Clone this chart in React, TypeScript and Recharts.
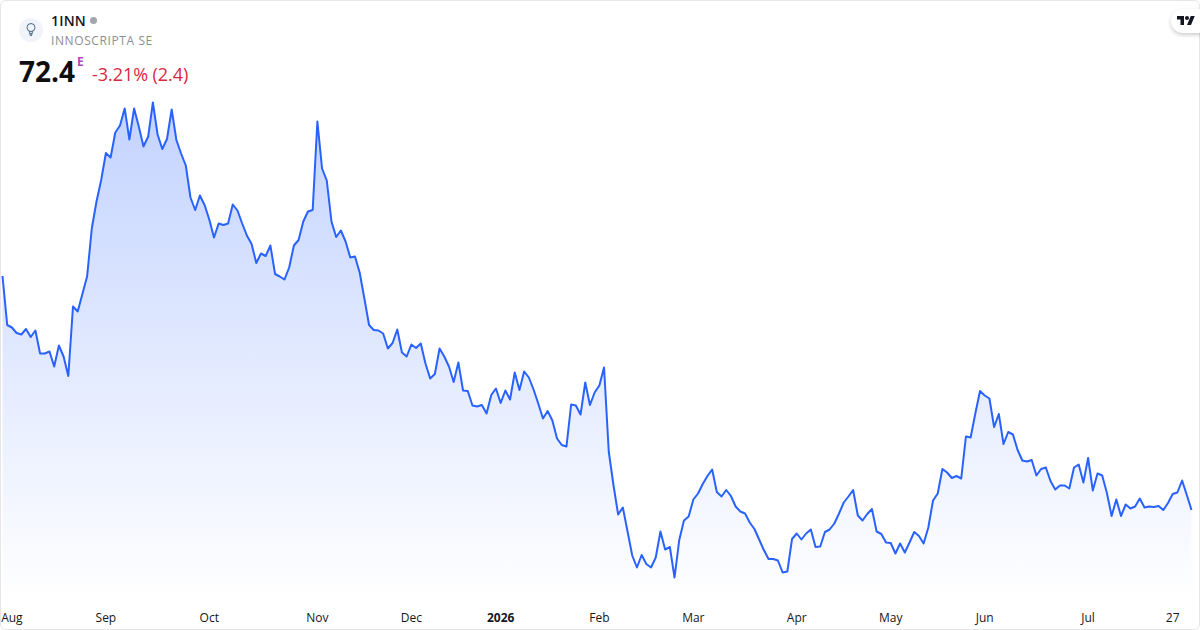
import React from "react";
import { AreaChart, Area, XAxis, YAxis } from "recharts";

// daily closes
const closes = [
  119.2, 109.4, 108.9, 107.8, 107.5, 108.6, 107.0, 108.3, 103.7, 103.7, 104.1, 101.1, 105.3, 103.1, 99.2, 113.1,
  112.1, 115.6, 119.1, 128.7, 134.1, 138.4, 143.8, 142.9, 147.9, 149.3, 152.7, 146.5, 152.7, 149.1, 145.1, 147.1,
  153.9, 147.5, 144.6, 146.6, 152.5, 146.4, 143.7, 141.3, 134.9, 132.4, 135.3, 133.4, 130.5, 126.9, 129.7, 129.4,
  129.7, 133.5, 132.3, 129.7, 127.3, 125.6, 121.8, 123.7, 123.2, 125.3, 119.6, 119.1, 118.5, 120.9, 125.3, 126.4,
  130.1, 132.1, 132.4, 150.1, 140.7, 138.3, 130.1, 127.0, 128.3, 126.1, 122.9, 123.1, 119.9, 114.7, 109.4, 108.4,
  108.3, 107.7, 104.7, 105.8, 108.5, 103.9, 103.1, 105.5, 104.8, 105.7, 101.7, 98.7, 99.6, 104.7, 103.1, 101.1,
  98.0, 101.9, 96.3, 96.2, 93.3, 93.1, 93.4, 91.7, 95.4, 96.7, 93.8, 96.3, 94.5, 99.9, 96.4, 100.1,
  98.9, 96.5, 93.7, 90.7, 92.2, 90.3, 86.7, 85.4, 85.1, 93.5, 93.3, 91.5, 97.9, 93.4, 95.9, 97.3,
  100.9, 84.1, 77.4, 71.5, 72.9, 68.1, 63.3, 60.9, 63.4, 61.6, 60.9, 62.9, 68.1, 64.5, 65.0, 58.9,
  66.4, 70.3, 71.1, 74.5, 75.7, 77.6, 79.2, 80.5, 76.0, 75.1, 76.4, 75.2, 73.1, 72.1, 71.7, 69.9,
  68.6, 66.5, 64.4, 62.6, 62.6, 62.3, 59.9, 60.1, 66.6, 67.7, 66.5, 67.7, 68.5, 65.0, 65.1, 68.0,
  68.5, 69.7, 71.7, 73.9, 75.1, 76.4, 71.3, 70.3, 71.6, 72.6, 68.1, 67.6, 65.9, 65.8, 63.7, 65.7,
  63.9, 65.9, 68.0, 67.2, 65.7, 68.9, 74.3, 75.7, 80.6, 79.9, 78.8, 79.2, 78.7, 87.1, 86.9, 91.7,
  96.2, 95.3, 94.7, 89.0, 91.6, 85.6, 88.0, 87.5, 84.4, 82.3, 82.1, 82.4, 79.3, 80.6, 80.9, 78.2,
  76.5, 77.3, 77.3, 76.7, 80.9, 81.5, 77.9, 82.8, 76.3, 79.7, 79.3, 75.8, 71.2, 74.5, 71.2, 73.5,
  72.7, 73.1, 74.7, 72.9, 73.1, 73.0, 73.2, 72.4, 73.8, 75.6, 75.9, 78.3, 75.4, 72.4,
];

const tickIndexes = [2, 22, 44, 67, 87, 106, 127, 147, 169, 189, 209, 231, 249];
const tickLabels = ["Aug", "Sep", "Oct", "Nov", "Dec", "2026", "Feb", "Mar", "Apr", "May", "Jun", "Jul", "27"];

const data = closes.map((close, idx) => ({ idx, close }));

const FONT = '"Open Sans", sans-serif';

function MonthTick({ x, y, payload }: any) {
  const label = tickLabels[tickIndexes.indexOf(payload.value)];
  return (
    <text
      x={x}
      y={y + 14}
      textAnchor="middle"
      fontFamily={FONT}
      fontSize={12}
      fontWeight={label === "2026" ? 700 : 400}
      fill="#131722"
    >
      {label}
    </text>
  );
}

export default function App() {
  return (
    <div style={{ position: "absolute", left: 0, top: 0, width: 1200, height: 630, background: "#fff", overflow: "hidden", fontFamily: FONT }}>
      <AreaChart width={1200} height={630} data={data} margin={{ top: 0, right: 8.5, bottom: 0, left: 2.5 }}>
        <defs>
          <linearGradient id="fillClose" x1="0" y1="0" x2="0" y2="1">
            <stop offset="0%" stopColor="#2962FF" stopOpacity={0.28} />
            <stop offset="100%" stopColor="#2962FF" stopOpacity={0} />
          </linearGradient>
        </defs>
        <XAxis
          dataKey="idx"
          type="number"
          domain={[0, 253]}
          ticks={tickIndexes}
          interval={0}
          height={30}
          axisLine={false}
          tickLine={false}
          tick={<MonthTick />}
        />
        <YAxis hide domain={[54.4, 174.4]} />
        <Area
          dataKey="close"
          type="linear"
          stroke="#2962FF"
          strokeWidth={2}
          strokeLinejoin="round"
          fill="url(#fillClose)"
          fillOpacity={1}
          dot={false}
          activeDot={false}
          isAnimationActive={false}
        />
      </AreaChart>

      {/* frame */}
      <div style={{ position: "absolute", inset: 0, boxSizing: "border-box", border: "1px solid #e6e6e8", borderRadius: 6, pointerEvents: "none" }} />

      {/* symbol header */}
      <div style={{ position: "absolute", left: 19, top: 18, width: 24, height: 24, borderRadius: 12, background: "#f0f3fa" }}>
        <svg width={24} height={24} viewBox="0 0 24 24" fill="none" stroke="#4a6b85" strokeWidth={1}>
          <circle cx={12} cy={9.5} r={4} />
          <path d="M10.4 13.2 L11.4 18 M13.6 13.2 L12.4 18 M10.8 15.6 L13.2 15.6" />
        </svg>
      </div>
      <div style={{ position: "absolute", left: 51, top: 12, fontSize: 14, fontWeight: 600, color: "#131722", lineHeight: "18px", letterSpacing: 0.2 }}>1INN</div>
      <div style={{ position: "absolute", left: 90, top: 17, width: 7, height: 7, borderRadius: 4, background: "#a3a6af" }} />
      <div style={{ position: "absolute", left: 51, top: 32, fontSize: 12, color: "#8b8e96", lineHeight: "18px", letterSpacing: 0.6 }}>INNOSCRIPTA SE</div>
      <div style={{ position: "absolute", left: 19, top: 52, fontSize: 28, fontWeight: 700, color: "#0f0f0f", lineHeight: "38px" }}>72.4</div>
      <div style={{ position: "absolute", left: 77, top: 55, fontSize: 12, fontWeight: 700, color: "#ab47bc", lineHeight: "14px" }}>E</div>
      <div style={{ position: "absolute", left: 92, top: 62, fontSize: 18, color: "#d8283f", lineHeight: "24px", letterSpacing: -0.05 }}>-3.21% (2.4)</div>

      {/* logo pill */}
      <div style={{ position: "absolute", left: 1171, top: 9, width: 40, height: 24, borderRadius: 12, background: "#fff", boxShadow: "0 2px 4px rgba(0,0,0,0.2)" }}>
        <svg width={18} height={14} viewBox="0 0 36 28" style={{ position: "absolute", left: 6, top: 5 }} fill="#131722">
          <path d="M14 22H7V11H0V4h14v18zM28 22h-8l7.5-18h8L28 22z" />
          <circle cx={20} cy={8} r={4} />
        </svg>
      </div>
    </div>
  );
}
